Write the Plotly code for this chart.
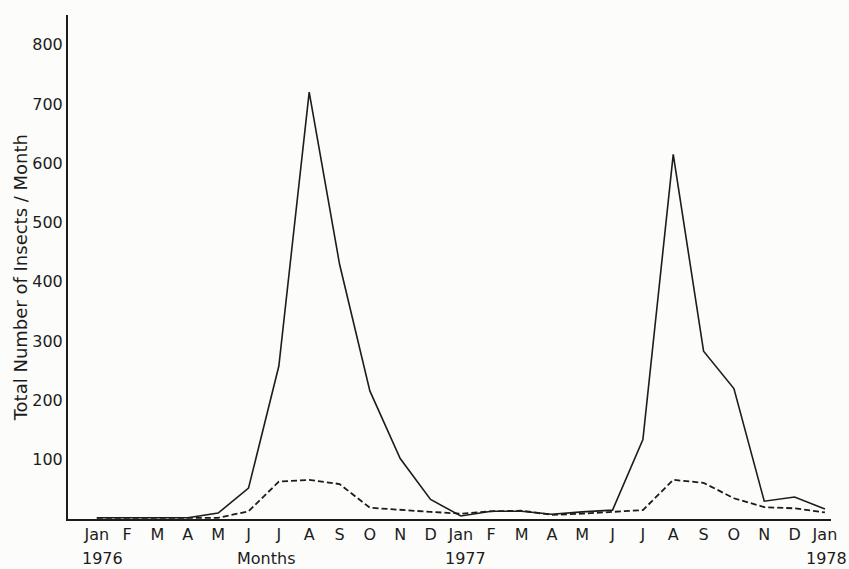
import plotly.graph_objects as go

months = ["Jan", "F", "M", "A", "M", "J", "J", "A", "S", "O", "N", "D",
          "Jan", "F", "M", "A", "M", "J", "J", "A", "S", "O", "N", "D", "Jan"]
x_idx = list(range(len(months)))

# Solid line (total insects)
solid_vals = [2, 2, 2, 2, 10, 52, 258, 720, 430, 216, 102, 33,
              5, 13, 13, 8, 12, 15, 134, 615, 283, 220, 30, 37, 17]
# Dashed line
dashed_vals = [2, 2, 2, 2, 2, 13, 63, 66, 59, 19, 15, 12,
               9, 13, 14, 7, 9, 12, 15, 66, 61, 35, 20, 18, 11]

y_ticks = [100, 200, 300, 400, 500, 600, 700, 800]

year_labels = ["1976", "Months", "1977", "1978"]
year_label_x = [0.2, 5.57, 12.16, 24.05]

ink = "#1c1c1c"
font_family = "DejaVu Sans"

fig = go.Figure()
fig.add_trace(go.Scatter(x=x_idx, y=solid_vals, mode="lines",
                         line=dict(color=ink, width=1.6), showlegend=False))
fig.add_trace(go.Scatter(x=x_idx, y=dashed_vals, mode="lines",
                         line=dict(color=ink, width=1.8, dash="6px,3px"), showlegend=False))

annotations = [
    dict(text="Total Number of Insects / Month", textangle=-90, xref="paper", yref="paper",
         x=-0.0626, y=0.478, showarrow=False, font=dict(size=18), xanchor="center", yanchor="middle"),
]
for t, xv in zip(year_labels, year_label_x):
    annotations.append(dict(text=t, xref="x", yref="paper", x=xv, y=-0.0774, showarrow=False,
                            xanchor="center", yanchor="middle", font=dict(size=16)))

fig.update_layout(
    width=849, height=569,
    margin=dict(l=68, r=14, t=15, b=50),
    paper_bgcolor="#fcfcfa", plot_bgcolor="#fcfcfa",
    font=dict(family=font_family, color=ink, size=16),
    xaxis=dict(range=[-0.95, 24.2], tickmode="array", tickvals=x_idx, ticktext=months,
               showgrid=False, zeroline=False, showline=True, linecolor=ink, linewidth=2,
               ticks="", tickfont=dict(size=16)),
    yaxis=dict(range=[0, 850], tickmode="array", tickvals=y_ticks,
               showgrid=False, zeroline=False, showline=True, linecolor=ink, linewidth=2,
               ticks="", tickfont=dict(size=16)),
    annotations=annotations,
)

fig.write_html("out.html")
